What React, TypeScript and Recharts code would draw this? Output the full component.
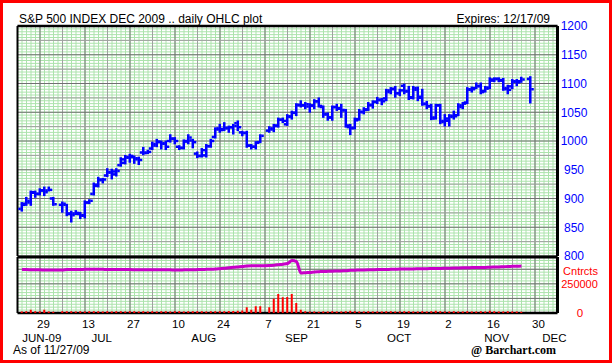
import React from 'react';
import { ComposedChart, Bar, Line, XAxis, YAxis, ReferenceLine } from 'recharts';

// weekday slots counted from Mon 22 Jun 2009 (holidays Jul 3, Sep 7, Nov 26 leave gaps)
const slots = [
  1, 2, 3, 4,
  5, 6, 7, 8,
  10, 11, 12, 13, 14,
  15, 16, 17, 18, 19,
  20, 21, 22, 23, 24,
  25, 26, 27, 28, 29,
  30, 31, 32, 33, 34,
  35, 36, 37, 38, 39,
  40, 41, 42, 43, 44,
  45, 46, 47, 48, 49,
  50, 51, 52, 53, 54,
  56, 57, 58, 59,
  60, 61, 62, 63, 64,
  65, 66, 67, 68, 69,
  70, 71, 72, 73, 74,
  75, 76, 77, 78, 79,
  80, 81, 82, 83, 84,
  85, 86, 87, 88, 89,
  90, 91, 92, 93, 94,
  95, 96, 97, 98, 99,
  100, 101, 102, 103, 104,
  105, 106, 107, 108, 109,
  110, 111, 112, 114,
];

const opens = [
  882, 891, 893, 910,
  908, 914, 914, 900,
  889, 889, 874, 874, 873,
  871, 893, 908, 922, 932,
  940, 946, 942, 958, 962,
  971, 972, 968, 980, 980,
  987, 992, 998, 996, 1000,
  1004, 990, 988, 1000, 1001,
  978, 974, 975, 991, 1007,
  1022, 1021, 1022, 1024, 1031,
  1015, 1014, 992, 990, 998,
  1018, 1020, 1026, 1037,
  1029, 1042, 1049, 1062, 1062,
  1060, 1062, 1069, 1059, 1046,
  1041, 1059, 1057, 1053, 1024,
  1023, 1038, 1050, 1055, 1062,
  1068, 1071, 1074, 1085, 1090,
  1083, 1096, 1087, 1075, 1092,
  1077, 1065, 1061, 1041, 1062,
  1035, 1035, 1044, 1045, 1059,
  1067, 1089, 1092, 1096, 1087,
  1093, 1105, 1108, 1105, 1090,
  1095, 1104, 1104, 1108,
];

const highs = [
  892, 901, 912, 912,
  916, 919, 919, 901,
  893, 889, 877, 878, 875,
  895, 897, 926, 936, 934,
  951, 950, 951, 970, 974,
  976, 973, 971, 988, 983,
  997, 1002, 999, 999, 1010,
  1005, 991, 1001, 1010, 1002,
  980, 986, 993, 1002, 1022,
  1028, 1031, 1025, 1028, 1034,
  1016, 1016, 993, 998, 1010,
  1024, 1028, 1039, 1039,
  1045, 1051, 1064, 1069, 1066,
  1064, 1071, 1074, 1060, 1048,
  1060, 1063, 1063, 1054, 1028,
  1039, 1054, 1057, 1066, 1069,
  1075, 1073, 1089, 1092, 1094,
  1089, 1098, 1094, 1094, 1093,
  1089, 1068, 1063, 1063, 1063,
  1045, 1045, 1051, 1064, 1066,
  1092, 1093, 1100, 1100, 1094,
  1109, 1109, 1109, 1108, 1096,
  1106, 1106, 1110, 1111,
];

const lows = [
  879, 889, 889, 903,
  907, 906, 914, 889,
  877, 871, 860, 873, 866,
  867, 892, 907, 921, 928,
  939, 935, 940, 957, 961,
  964, 962, 960, 977, 979,
  986, 991, 987, 986, 999,
  996, 986, 987, 996, 989,
  972, 973, 973, 990, 1006,
  1016, 1019, 1016, 1013, 1019,
  1010, 990, 987, 987, 998,
  1016, 1017, 1025, 1033,
  1028, 1039, 1045, 1060, 1057,
  1051, 1057, 1060, 1042, 1037,
  1037, 1054, 1042, 1025, 1012,
  1022, 1037, 1048, 1054, 1058,
  1066, 1064, 1071, 1083, 1077,
  1080, 1083, 1073, 1074, 1071,
  1063, 1057, 1038, 1039, 1031,
  1027, 1027, 1039, 1045, 1057,
  1066, 1086, 1092, 1083, 1086,
  1092, 1104, 1104, 1089, 1083,
  1092, 1097, 1103, 1067,
];

const closes = [
  889, 896, 911, 908,
  914, 911, 915, 890,
  891, 873, 871, 875, 870,
  893, 896, 924, 933, 933,
  945, 947, 948, 968, 972,
  974, 970, 967, 979, 981,
  995, 999, 995, 990, 1004,
  1000, 988, 999, 1006, 998,
  974, 984, 991, 1000, 1020,
  1019, 1023, 1024, 1026, 1024,
  1014, 992, 990, 997, 1009,
  1022, 1027, 1037, 1035,
  1043, 1049, 1063, 1062, 1064,
  1061, 1069, 1061, 1047, 1041,
  1059, 1056, 1054, 1027, 1022,
  1036, 1051, 1054, 1063, 1068,
  1072, 1069, 1088, 1091, 1083,
  1088, 1086, 1076, 1089, 1075,
  1064, 1060, 1039, 1062, 1033,
  1039, 1042, 1043, 1062, 1065,
  1090, 1090, 1095, 1085, 1091,
  1107, 1108, 1106, 1092, 1089,
  1103, 1102, 1107, 1090,
];

// contracts, thousands
const volumeK = [
  12, 15, 28, 14,
  13, 28, 12, 10,
  14, 16, 14, 12, 15,
  13, 16, 14, 15, 13,
  14, 12, 15, 14, 12,
  16, 14, 13, 15, 12,
  14, 13, 15, 14, 12,
  14, 15, 13, 14, 16,
  15, 14, 13, 15, 16,
  14, 15, 18, 17, 20,
  22, 49, 28, 57, 57,
  49, 123, 163, 134,
  137, 163, 86, 28, 14,
  10, 12, 11, 13, 12,
  14, 12, 13, 15, 20,
  14, 13, 12, 14, 12,
  13, 12, 15, 14, 12,
  13, 14, 16, 13, 12,
  14, 13, 15, 20, 14,
  13, 12, 14, 13, 12,
  15, 13, 12, 14, 13,
  20, 14, 13, 12, 14,
  13, 12, 11, null,
];

const openInterestK = [
  372, 372, 371, 370,
  370, 368, 368, 369,
  369, 372, 372, 373, 373,
  374, 374, 375, 375, 374,
  373, 373, 373, 372, 372,
  372, 371, 370, 370, 370,
  371, 371, 371, 371, 370,
  369, 369, 370, 371, 371,
  372, 373, 374, 375, 377,
  380, 383, 388, 392, 395,
  398, 402, 404, 405, 405,
  407, 410, 414, 418,
  424, 450, 440, 342, 346,
  348, 352, 354, 356, 357,
  358, 360, 361, 362, 366,
  367, 368, 369, 370, 371,
  372, 372, 373, 374, 375,
  377, 377, 378, 378, 379,
  380, 380, 381, 382, 382,
  383, 384, 385, 386, 387,
  388, 389, 390, 390, 391,
  393, 394, 395, 397, 398,
  400, 401, 403, null,
];

const priceTicks = [800, 850, 900, 950, 1000, 1050, 1100, 1150, 1200];
const contractTicks = [0, 250000];
const dayTicks = [5, 15, 25, 35, 45, 55, 65, 75, 85, 95, 105, 115];
const dayLabels = ['29', '13', '27', '10', '24', '7', '21', '5', '19', '2', '16', '30'];
const monthTicks = [5.4, 18.7, 41.4, 62, 84.8, 106.5, 119.3];
const monthLabels = ['JUN-09', 'JUL', 'AUG', 'SEP', 'OCT', 'NOV', 'DEC'];

const W = 612;
const H = 363;
const BLUE = '#0000ff';
const RED = '#ff0000';
const MAGENTA = '#c800c8';
const GREEN = '#ace3ac';
const GRAY_DARK = '#707070';
const GRAY_LIGHT = '#a0a0a0';
const FONT = '"Liberation Sans", Arial, sans-serif';

const xMinor = Array.from({ length: 121 }, (_, i) => i);
const xWeekly = xMinor.filter((v) => v % 5 === 0);
const priceMinor = Array.from({ length: 81 }, (_, i) => 800 + i * 5);
const priceMid = priceMinor.filter((v) => v % 25 === 0);
const contractMinor = Array.from({ length: 20 }, (_, i) => i * 25000);
const contractMid = [125000, 250000, 375000];

// both panels share the same plot box; grid charts sit under the data charts
const TOP_MARGIN = { top: 26, right: 4.5, bottom: 14, left: 17.5 };
const TOP_HEIGHT = 270;
const BOTTOM_MARGIN = { top: 257, right: 4.5, bottom: 22, left: 17.5 };
const layer: React.CSSProperties = { position: 'absolute', left: 0, top: 0 };

function OhlcShape(props: any) {
  const { x, y, width, height, payload } = props;
  if (!payload || y == null) return null;
  const top = Math.min(y, y + height);
  const h = Math.abs(height);
  const span = payload.high - payload.low || 1;
  const yOpen = top + ((payload.high - payload.open) / span) * h;
  const yClose = top + ((payload.high - payload.close) / span) * h;
  const cx = x + width / 2;
  return (
    <g fill={BLUE}>
      <rect x={cx - 1.25} y={top - 1} width={2.5} height={h + 2} />
      <rect x={cx - 3.5} y={yOpen - 1.25} width={2.5} height={2.5} />
      <rect x={cx + 1} y={yClose - 1.25} width={2.5} height={2.5} />
    </g>
  );
}

function PriceTick(props: any) {
  const { x, y, payload } = props;
  return (
    <text x={x + 16.5} y={y} dy="0.36em" textAnchor="middle" fill={BLUE} fontSize={12} fontFamily={FONT}>
      {payload.value}
    </text>
  );
}

function ContractTick(props: any) {
  const { x, y, payload } = props;
  if (payload.value === 0) {
    return (
      <text x={x + 22.5} y={y + 4} textAnchor="middle" fill={RED} fontSize={11.5} fontFamily={FONT}>
        0
      </text>
    );
  }
  return (
    <g fill={RED} fontSize={11} fontFamily={FONT}>
      <text x={x + 23} y={y - 8.5} textAnchor="middle">Cntrcts</text>
      <text x={x + 22} y={y + 4.5} textAnchor="middle">{payload.value}</text>
    </g>
  );
}

function DayTick(props: any) {
  const { x, y, index } = props;
  return (
    <text x={x + 3.5} y={y + 15} textAnchor="middle" fill="#000" fontSize={11.5} fontFamily={FONT}>
      {dayLabels[index]}
    </text>
  );
}

function MonthTick(props: any) {
  const { x, y, index } = props;
  return (
    <text x={x} y={y + 14.5} textAnchor="middle" fill="#000" fontSize={11.5} fontFamily={FONT}>
      {monthLabels[index]}
    </text>
  );
}

function verticalGrid(xAxisId: string | number) {
  return [
    ...xMinor.map((v) => (
      <ReferenceLine key={`vm${v}`} xAxisId={xAxisId} x={v} stroke={GREEN} strokeWidth={1} />
    )),
    ...xWeekly.map((v) => (
      <ReferenceLine
        key={`vw${v}`}
        xAxisId={xAxisId}
        x={v}
        stroke={v % 10 === 5 ? GRAY_DARK : GRAY_LIGHT}
        strokeWidth={1}
      />
    )),
  ];
}

function priceAxes(withTicks: boolean) {
  return [
    <XAxis key="x" type="number" dataKey="slot" domain={[0, 120]} allowDataOverflow hide />,
    <YAxis
      key="y"
      orientation="right"
      type="number"
      domain={[800, 1200]}
      ticks={priceTicks}
      interval={0}
      width={50}
      tickLine={false}
      axisLine={false}
      tickSize={0}
      tickMargin={0}
      allowDataOverflow
      tick={withTicks ? (p: any) => <PriceTick {...p} /> : false}
    />,
  ];
}

function contractAxes(withTicks: boolean) {
  return [
    <XAxis
      key="xd"
      xAxisId="day"
      type="number"
      dataKey="slot"
      domain={[0, 120]}
      allowDataOverflow
      ticks={dayTicks}
      interval={0}
      height={14}
      tickLine={false}
      axisLine={false}
      tickSize={0}
      tickMargin={0}
      tick={withTicks ? (p: any) => <DayTick {...p} /> : false}
    />,
    <XAxis
      key="xm"
      xAxisId="month"
      type="number"
      dataKey="slot"
      domain={[0, 120]}
      allowDataOverflow
      ticks={monthTicks}
      interval={0}
      height={14}
      tickLine={false}
      axisLine={false}
      tickSize={0}
      tickMargin={0}
      tick={withTicks ? (p: any) => <MonthTick {...p} /> : false}
    />,
    <YAxis
      key="y"
      orientation="right"
      type="number"
      domain={[0, 480000]}
      ticks={contractTicks}
      interval={0}
      width={50}
      tickLine={false}
      axisLine={false}
      tickSize={0}
      tickMargin={0}
      allowDataOverflow
      tick={withTicks ? (p: any) => <ContractTick {...p} /> : false}
    />,
  ];
}

export default function App() {
  const rows = slots.map((slot, i) => ({
    slot,
    range: [lows[i], highs[i]],
    open: opens[i],
    high: highs[i],
    low: lows[i],
    close: closes[i],
    vol: volumeK[i] == null ? null : volumeK[i]! * 1000,
    oi: openInterestK[i] == null ? null : openInterestK[i]! * 1000,
  }));

  return (
    <div style={{ position: 'absolute', left: 0, top: 0, width: W, height: H, background: '#fff', overflow: 'hidden' }}>
      {/* price panel grid */}
      <div style={layer}>
        <ComposedChart width={W} height={TOP_HEIGHT} data={rows} margin={TOP_MARGIN}>
          {priceAxes(false)}
          {priceMinor.map((v) => (
            <ReferenceLine key={`pm${v}`} y={v} stroke={GREEN} strokeWidth={1} />
          ))}
          {verticalGrid(0)}
          {priceMid.map((v) => (
            <ReferenceLine key={`pg${v}`} y={v} stroke={v % 50 === 0 ? GRAY_DARK : GRAY_LIGHT} strokeWidth={1} />
          ))}
          <ReferenceLine y={1200} stroke="#000" strokeWidth={2.5} />
          <ReferenceLine x={0} stroke="#000" strokeWidth={2} />
          <ReferenceLine x={120} stroke="#000" strokeWidth={3} />
        </ComposedChart>
      </div>

      {/* volume / open interest grid */}
      <div style={layer}>
        <ComposedChart width={W} height={H} data={rows} margin={BOTTOM_MARGIN}>
          {contractAxes(false)}
          {contractMinor.map((v) => (
            <ReferenceLine key={`cm${v}`} xAxisId="day" y={v} stroke={GREEN} strokeWidth={1} />
          ))}
          {verticalGrid('day')}
          {contractMid.map((v) => (
            <ReferenceLine key={`cg${v}`} xAxisId="day" y={v} stroke={GRAY_DARK} strokeWidth={1} />
          ))}
          <ReferenceLine xAxisId="day" y={480000} stroke="#000" strokeWidth={3} />
          <ReferenceLine xAxisId="day" y={0} stroke="#000" strokeWidth={2.5} />
          <ReferenceLine xAxisId="day" x={0} stroke="#000" strokeWidth={2} />
          <ReferenceLine xAxisId="day" x={120} stroke="#000" strokeWidth={3} />
        </ComposedChart>
      </div>

      {/* price OHLC bars */}
      <div style={layer}>
        <ComposedChart width={W} height={TOP_HEIGHT} data={rows} margin={TOP_MARGIN}>
          {priceAxes(true)}
          <Bar dataKey="range" barSize={6} shape={(p: any) => <OhlcShape {...p} />} isAnimationActive={false} />
        </ComposedChart>
      </div>

      {/* volume bars and open interest line */}
      <div style={layer}>
        <ComposedChart width={W} height={H} data={rows} margin={BOTTOM_MARGIN}>
          {contractAxes(true)}
          <Bar xAxisId="day" dataKey="vol" barSize={2} fill={RED} isAnimationActive={false} />
          <Line
            xAxisId="day"
            dataKey="oi"
            type="monotone"
            stroke={MAGENTA}
            strokeWidth={3}
            dot={false}
            activeDot={false}
            isAnimationActive={false}
          />
        </ComposedChart>
      </div>

      {/* titles and footer */}
      <svg width={W} height={H} style={{ ...layer, pointerEvents: 'none' }}>
        <text x={19} y={22.5} fontSize={12} fontFamily={FONT} fill="#000">
          S&amp;P 500 INDEX DEC 2009 .. daily OHLC plot
        </text>
        <text x={550} y={22.5} textAnchor="end" fontSize={12} fontFamily={FONT} fill="#000">
          Expires: 12/17/09
        </text>
        <text x={13} y={354} fontSize={12} fontFamily={FONT} fill="#000">
          As of 11/27/09
        </text>
        <text
          x={556}
          y={354}
          textAnchor="end"
          fontSize={12}
          fontWeight="bold"
          fontFamily='"Liberation Serif", "Times New Roman", serif'
          fill="#000"
        >
          @ Barchart.com
        </text>
      </svg>

      <div
        style={{
          ...layer,
          width: W,
          height: H,
          boxSizing: 'border-box',
          border: `3px solid ${RED}`,
          pointerEvents: 'none',
        }}
      />
    </div>
  );
}
